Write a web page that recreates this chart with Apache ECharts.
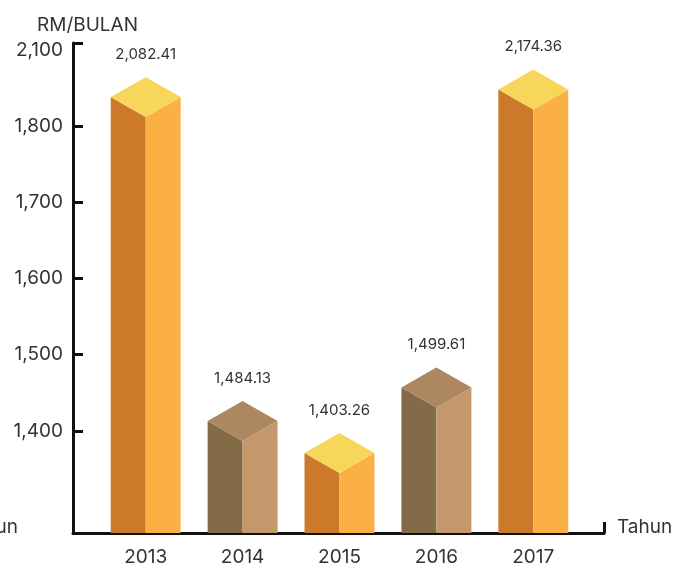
<!DOCTYPE html>
<html>
<head>
<meta charset="utf-8">
<title>RM/BULAN 2013-2017</title>
<script src="https://cdn.jsdelivr.net/npm/echarts@6/dist/echarts.min.js"></script>
<style>
  html, body { margin: 0; padding: 0; background: #fff; }
  #chart { width: 696px; height: 569px; }
</style>
</head>
<body>
<div id="chart"></div>
<script>
// data
const years = ['2013', '2014', '2015', '2016', '2017'];
const values = [2082.41, 1484.13, 1403.26, 1499.61, 2174.36];      // printed on the bars
const barLevels = [1838, 1413, 1371, 1457, 1848];                  // where each bar top sits on the drawn axis
const tickLevels = [1400, 1500, 1600, 1700, 1800, 1909];
const tickLabels = ['1,400', '1,500', '1,600', '1,700', '1,800', '2,100'];
const axisMin = 1266;
const axisMax = 1909;

const FONT = 'Inter, "Noto Sans", sans-serif';
const gold = { left: '#CC7A2A', right: '#FBB045', top: '#F7D65A' };
const bronze = { left: '#846B48', right: '#C4986B', top: '#AC875F' };

const chart = echarts.init(document.getElementById('chart'));

function fmt(v) {
  return v.toLocaleString('en-US', { minimumFractionDigits: 2, maximumFractionDigits: 2 });
}

function renderCube(params, api) {
  const idx = api.value(0);
  const top = api.coord([idx, api.value(1)]);
  const base = api.coord([idx, axisMin]);
  const half = api.size([1, 0])[0] * 0.361;
  const dy = half * 0.571;
  const cx = top[0], sy = top[1], by = base[1];
  const c = idx % 2 === 0 ? gold : bronze;
  return {
    type: 'group',
    children: [
      { type: 'polygon', shape: { points: [[cx - half, sy], [cx, sy + dy], [cx, by], [cx - half, by]] },
        style: { fill: c.left } },
      { type: 'polygon', shape: { points: [[cx, sy + dy], [cx + half, sy], [cx + half, by], [cx, by]] },
        style: { fill: c.right } },
      { type: 'polygon', shape: { points: [[cx - half, sy], [cx, sy - dy], [cx + half, sy], [cx, sy + dy]] },
        style: { fill: c.top } },
      { type: 'text', style: { x: cx, y: sy - dy - 23, text: fmt(api.value(2)), align: 'center',
        verticalAlign: 'middle', fill: '#333', font: '15px ' + FONT } }
    ]
  };
}

const option = {
  animation: false,
  title: {
    text: 'RM/BULAN', left: 32, top: 11,
    textStyle: { fontFamily: FONT, fontSize: 19, fontWeight: 'normal', color: '#333' }
  },
  graphic: [{
    type: 'text', style: { x: 18, y: 527, text: 'Tahun', align: 'right', verticalAlign: 'middle',
      fill: '#333', font: '19px ' + FONT }
  }],
  grid: [
    { left: 73, right: 92, top: 43, bottom: 36 },
    { left: 97.25, right: 114.25, top: 43, bottom: 36 }
  ],
  xAxis: [
    {
      type: 'value', gridIndex: 0, min: 0, max: 1,
      name: 'Tahun', nameLocation: 'end', nameGap: 13,
      nameTextStyle: { fontFamily: FONT, fontSize: 19, color: '#333', verticalAlign: 'bottom', lineHeight: 12 },
      axisLine: { show: true, lineStyle: { color: '#111', width: 3 } },
      axisTick: { show: true, inside: true, length: 11, customValues: [1], lineStyle: { color: '#111', width: 3 } },
      axisLabel: { show: false },
      splitLine: { show: false }
    },
    {
      type: 'category', gridIndex: 1, data: years,
      axisLine: { show: false }, axisTick: { show: false },
      axisLabel: { fontFamily: FONT, fontSize: 19, color: '#333', margin: 15 }
    }
  ],
  yAxis: [
    {
      type: 'value', gridIndex: 0, min: axisMin, max: axisMax,
      axisLine: { show: true, lineStyle: { color: '#111', width: 3 } },
      axisTick: { show: true, inside: true, length: 10, customValues: tickLevels, lineStyle: { color: '#111', width: 3 } },
      axisLabel: {
        customValues: tickLevels, margin: 10,
        fontFamily: FONT, fontSize: 19, color: '#333',
        formatter: v => {
          const i = tickLevels.indexOf(v);
          return i === tickLevels.length - 1 ? '{top|' + tickLabels[i] + '}' : tickLabels[i];
        },
        rich: { top: { fontFamily: FONT, fontSize: 19, color: '#333', padding: [14, 0, 0, 0] } }
      },
      splitLine: { show: false }
    },
    { type: 'value', gridIndex: 1, min: axisMin, max: axisMax, show: false }
  ],
  series: [{
    type: 'custom', xAxisIndex: 1, yAxisIndex: 1,
    renderItem: renderCube,
    data: years.map((y, i) => [i, barLevels[i], values[i]]),
    z: 1
  }]
};

chart.setOption(option);
</script>
</body>
</html>
